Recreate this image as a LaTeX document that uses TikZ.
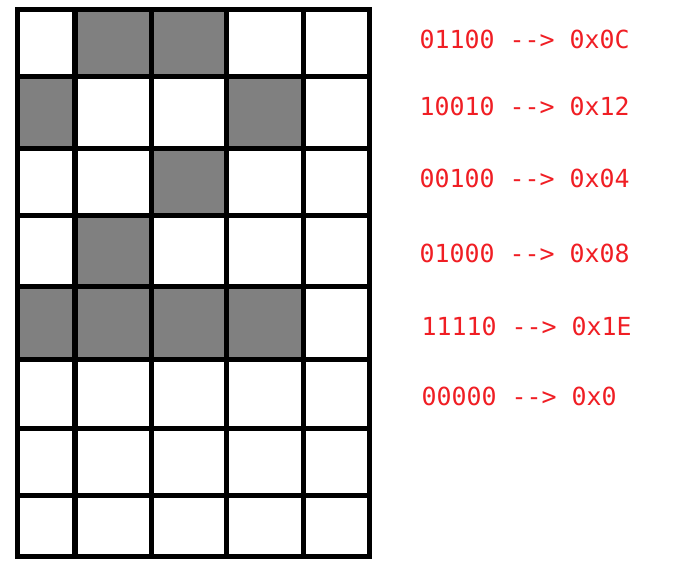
\documentclass[tikz,border=0pt]{standalone}
\usepackage{fontspec}
\newfontfamily\codefont{DejaVu Sans Mono}
\definecolor{codered}{RGB}{240,30,36}
\definecolor{cellgray}{RGB}{128,128,128}
\begin{document}
\begin{tikzpicture}[x=1pt,y=-1pt,
  gridline/.style={line width=5.2pt,black},
  shaded/.style={fill=cellgray},
  code/.style={text=codered,font=\codefont\fontsize{24.9}{29}\selectfont,anchor=base west,inner sep=0pt}]
\useasboundingbox[fill=white] (0,0) rectangle (684,568);
% shaded cells
\fill[shaded] (75,9.8) rectangle (226.5,76.5);
\fill[shaded] (17.5,76.5) rectangle (75,148.2);
\fill[shaded] (226.5,76.5) rectangle (303.3,148.2);
\fill[shaded] (151.5,148.2) rectangle (226.5,215.2);
\fill[shaded] (75,215.2) rectangle (151.5,286.5);
\fill[shaded] (17.5,286.5) rectangle (303.3,359.2);
% grid lines
\foreach \x in {75,151.5,226.5,303.3}
  \draw[gridline] (\x,9.8) -- (\x,556.8);
\foreach \y in {76.5,148.2,215.2,286.5,359.2,428.3,495.2}
  \draw[gridline] (17.5,\y) -- (369.5,\y);
\draw[gridline] (17.5,9.8) rectangle (369.5,556.8);
% labels
\node[code] (r1) at (419.5,48) {01100 --> 0x0C};
\node[code] (r2) at (419.5,115) {10010 --> 0x12};
\node[code] (r3) at (419.5,187) {00100 --> 0x04};
\node[code] (r4) at (419.5,262) {01000 --> 0x08};
\node[code] (r5) at (421.5,335) {11110 --> 0x1E};
\node[code] (r6) at (421.5,405) {00000 --> 0x0};
\end{tikzpicture}
\end{document}
